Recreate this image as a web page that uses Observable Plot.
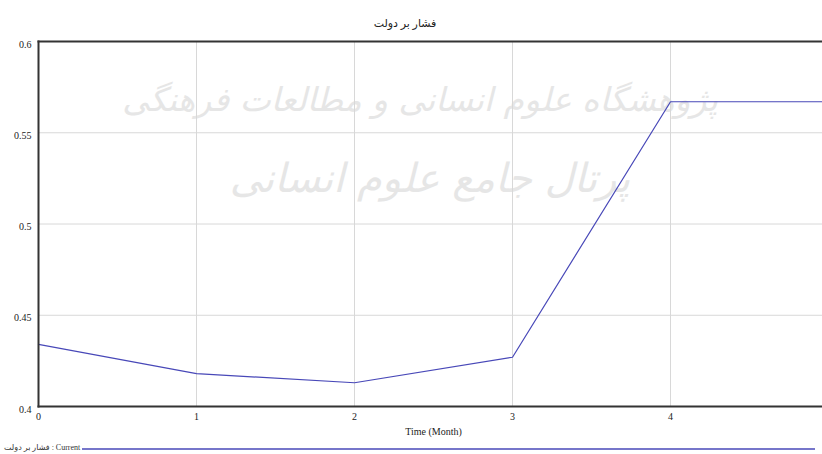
<!DOCTYPE html>
<html>
<head>
<meta charset="utf-8">
<script src="https://cdn.jsdelivr.net/npm/d3@7"></script>
<script src="https://cdn.jsdelivr.net/npm/@observablehq/plot@0.6"></script>
<style>
  html, body { margin: 0; padding: 0; background: #fff; }
  #wrap { position: relative; width: 822px; height: 454px; overflow: hidden; font-family: "Liberation Serif", "DejaVu Serif", "DejaVu Sans", serif; }
  #title { position: absolute; left: 0; top: 0; width: 810px; height: 30px; text-align: center; font-size: 11px; line-height: 14px; padding-top: 16px; box-sizing: border-box; color: #222; }
  #chart { position: absolute; left: 0; top: 30px; z-index: 2; }
  #wm { position: absolute; left: 0; top: 0; width: 822px; z-index: 1; color: #e6e6e6; font-family: "DejaVu Sans", sans-serif; text-align: center; pointer-events: none; }
  #wm .l1 { position: absolute; left: 0; top: 80px; width: 840px; font-size: 33px; font-style: italic; white-space: nowrap; }
  #wm .l2 { position: absolute; left: 0; top: 155px; width: 860px; font-size: 40px; font-style: italic; white-space: nowrap; }
  #legend { position: absolute; left: 0; top: 440px; width: 822px; height: 14px; z-index: 3; font-size: 8px; color: #333; }
  #legend .txt { position: absolute; left: 4px; top: 2px; line-height: 12px; white-space: nowrap; }
  #legend svg { position: absolute; left: 0; top: 0; }
</style>
</head>
<body>
<div id="wrap">
  <div id="wm"><div class="l1">پژوهشگاه علوم انسانی و مطالعات فرهنگی</div><div class="l2">پرتال جامع علوم انسانی</div></div>
  <div id="title"></div>
  <div id="chart"></div>
  <div id="legend"></div>
</div>
<script>
// ---- data ----
const chartTitle = "فشار بر دولت";
const xLabel = "Time (Month)";
const seriesName = "فشار بر دولت : Current";
const months = [0, 1, 2, 3, 4, 5];
const values = [0.434, 0.418, 0.413, 0.427, 0.567, 0.567];
const xTicks = [0, 1, 2, 3, 4];
const yTicks = [0.4, 0.45, 0.5, 0.55, 0.6];
const xGrid = [1, 2, 3, 4];
const yGrid = [0.45, 0.5, 0.55];

const lineColor = "#4848b8";
const data = months.map((m, i) => ({month: m, value: values[i]}));

document.getElementById("title").textContent = chartTitle;

const plot = Plot.plot({
  width: 822,
  height: 410,
  marginLeft: 38,
  marginRight: -6,
  marginTop: 11,
  marginBottom: 34,
  style: {background: "transparent", fontFamily: "'Liberation Serif', serif", fontSize: "10px", color: "#222", overflow: "visible"},
  x: {domain: [0, 5]},
  y: {domain: [0.4, 0.6]},
  marks: [
    Plot.ruleX(xGrid, {stroke: "#d8d8d8", strokeWidth: 1}),
    Plot.ruleY(yGrid, {stroke: "#d8d8d8", strokeWidth: 1}),
    Plot.axisX({ticks: xTicks, tickSize: 0, tickPadding: 6, tickFormat: d => String(d), label: xLabel, labelAnchor: "center", labelArrow: false, labelOffset: 28, fontSize: 10}),
    Plot.axisY({ticks: yTicks, tickSize: 0, tickPadding: 7, tickFormat: d => String(d), label: null, dy: 3, fontSize: 10}),
    Plot.line(data, {x: "month", y: "value", stroke: lineColor, strokeWidth: 1.2}),
    Plot.frame({anchor: "top", stroke: "#333", strokeWidth: 2}),
    Plot.frame({anchor: "left", stroke: "#333", strokeWidth: 2}),
    Plot.frame({anchor: "bottom", stroke: "#333", strokeWidth: 2})
  ]
});
document.getElementById("chart").appendChild(plot);

// legend
const lg = document.getElementById("legend");
const ns = "http://www.w3.org/2000/svg";
const s = document.createElementNS(ns, "svg");
s.setAttribute("width", 822); s.setAttribute("height", 14);
const ln = document.createElementNS(ns, "line");
ln.setAttribute("x1", 82); ln.setAttribute("x2", 815); ln.setAttribute("y1", 9); ln.setAttribute("y2", 9);
ln.setAttribute("stroke", lineColor); ln.setAttribute("stroke-width", 1.5);
s.appendChild(ln);
lg.appendChild(s);
const t = document.createElement("span");
t.className = "txt";
t.textContent = seriesName;
lg.appendChild(t);
</script>
</body>
</html>
